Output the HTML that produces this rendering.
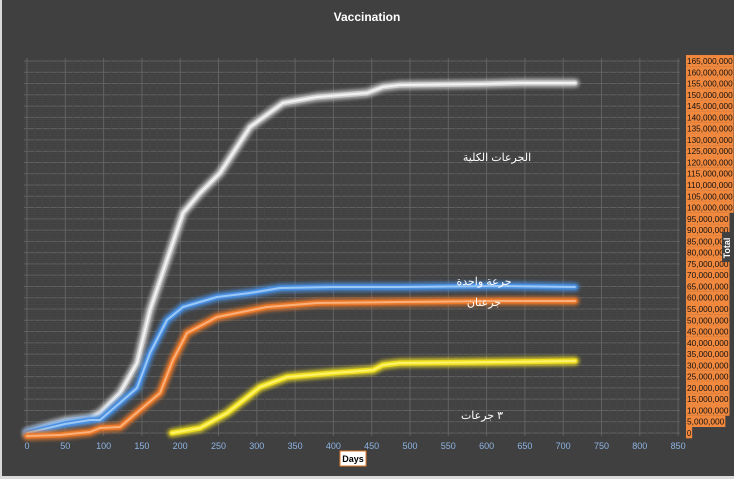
<!DOCTYPE html>
<html><head><meta charset="utf-8"><style>
body{margin:0;background:#404040;}
svg{display:block;}
</style></head><body>
<svg width="734" height="479" viewBox="0 0 734 479" xmlns="http://www.w3.org/2000/svg" font-family="Liberation Sans, Noto Sans CJK SC, sans-serif">
<defs>
<filter id="g" x="-10%" y="-10%" width="120%" height="120%"><feGaussianBlur stdDeviation="1.8"/></filter>
</defs>
<rect x="0" y="0" width="734" height="479" fill="#404040"/>
<rect x="0" y="476" width="734" height="3" fill="#d9d9d9"/>
<rect x="0" y="0" width="2" height="479" fill="#d9d9d9"/>
<text x="367" y="21" fill="#ffffff" font-size="12" font-weight="bold" text-anchor="middle">Vaccination</text>
<g stroke="#5a5a5a" stroke-width="1" id="grid"></g>
<g id="ylab" font-size="8.6" fill="#111"></g>
<g id="xlab" font-size="9" fill="#8eb4e3" text-anchor="middle"></g>
<g id="series" fill="none" stroke-linejoin="round" stroke-linecap="round"></g>
<rect x="340" y="451" width="26" height="15" fill="#fff" stroke="#e07a2a" stroke-width="1"/>
<text x="353" y="462" font-size="9" font-weight="bold" fill="#000" text-anchor="middle">Days</text>
<rect x="722" y="232" width="11" height="30" fill="#404040"/>
<text transform="translate(730,248) rotate(-90)" font-size="9" font-weight="bold" fill="#fff" text-anchor="middle">Total</text>
<g fill="#fff" font-size="11" text-anchor="middle">
<text x="497" y="161">الجرعات الكلية</text>
<text x="484" y="285">جرعة واحدة</text>
<text x="484" y="306">جرعتان</text>
<text x="482" y="419">٣ جرعات</text>
</g>
</svg>
<script>
const ns="http://www.w3.org/2000/svg";
const X=d=>27+d*0.766, Y=v=>433-v*2.2545;
const grid=document.getElementById('grid');
function ln(x1,y1,x2,y2,c,w){const l=document.createElementNS(ns,'line');l.setAttribute('x1',x1);l.setAttribute('y1',y1);l.setAttribute('x2',x2);l.setAttribute('y2',y2);if(c)l.setAttribute('stroke',c);if(w)l.setAttribute('stroke-width',w);grid.appendChild(l);}
for(let v=0;v<=165;v+=1){const y=Y(v);ln(24,y,680,y,v%5==0?'#626262':'#464646',1);}
for(let d=0;d<=850;d+=10){const x=X(d);ln(x,58,x,436,d%50==0?'#626262':'#464646',1);}
const yl=document.getElementById('ylab');
for(let v=0;v<=165;v+=5){const y=Y(v);const s=(v*1e6).toLocaleString('en-US');
 const w=s.length*4.15+2;
 const r=document.createElementNS(ns,'rect');r.setAttribute('x',686);r.setAttribute('y',y-6);r.setAttribute('width',w);r.setAttribute('height',11.3);r.setAttribute('fill','#f0883e');yl.appendChild(r);
 const t=document.createElementNS(ns,'text');t.setAttribute('x',687);t.setAttribute('y',y+3);t.setAttribute('textLength',w-2);t.setAttribute('lengthAdjust','spacingAndGlyphs');t.textContent=s;yl.appendChild(t);}
const xl=document.getElementById('xlab');
for(let d=0;d<=850;d+=50){const t=document.createElementNS(ns,'text');t.setAttribute('x',X(d));t.setAttribute('y',449);t.textContent=d;xl.appendChild(t);}
const S=[
['#d0d0d0','#f2f2f2',[[27,432],[50,425],[65,421],[90,418],[100,413],[120,393],[137,363],[150,310],[167,260],[183,213],[200,193],[220,173],[250,127],[283,103],[317,97],[367,93],[383,87],[400,85],[480,84],[520,83],[575,83]]],
['#4a90e2','#9cc8f5',[[27,433],[65,424],[90,420],[100,420],[137,388],[150,353],[167,320],[183,307],[217,297],[250,293],[280,288],[333,287],[400,287],[500,286],[575,287]]],
['#ec7a2a','#f9b07a',[[27,436],[60,435],[90,432],[100,428],[120,427],[160,393],[173,360],[187,333],[217,317],[267,307],[317,303],[400,302],[500,301],[575,301]]],
['#f0e020','#fff36a',[[172,433],[200,428],[227,413],[260,387],[287,377],[333,373],[373,370],[383,365],[400,363],[500,362],[575,361]]]
];
const g=document.getElementById('series');
S.forEach(([c,h,p])=>{const d='M'+p.map(q=>q.join(',')).join(' L');
 [[c,9,'url(#g)',0.8],[c,5,null,1],[h,2,null,1]].forEach(([col,w,f,o])=>{const e=document.createElementNS(ns,'path');e.setAttribute('d',d);e.setAttribute('stroke',col);e.setAttribute('stroke-width',w);e.setAttribute('opacity',o);if(f)e.setAttribute('filter',f);g.appendChild(e);});});
</script>
</body></html>
